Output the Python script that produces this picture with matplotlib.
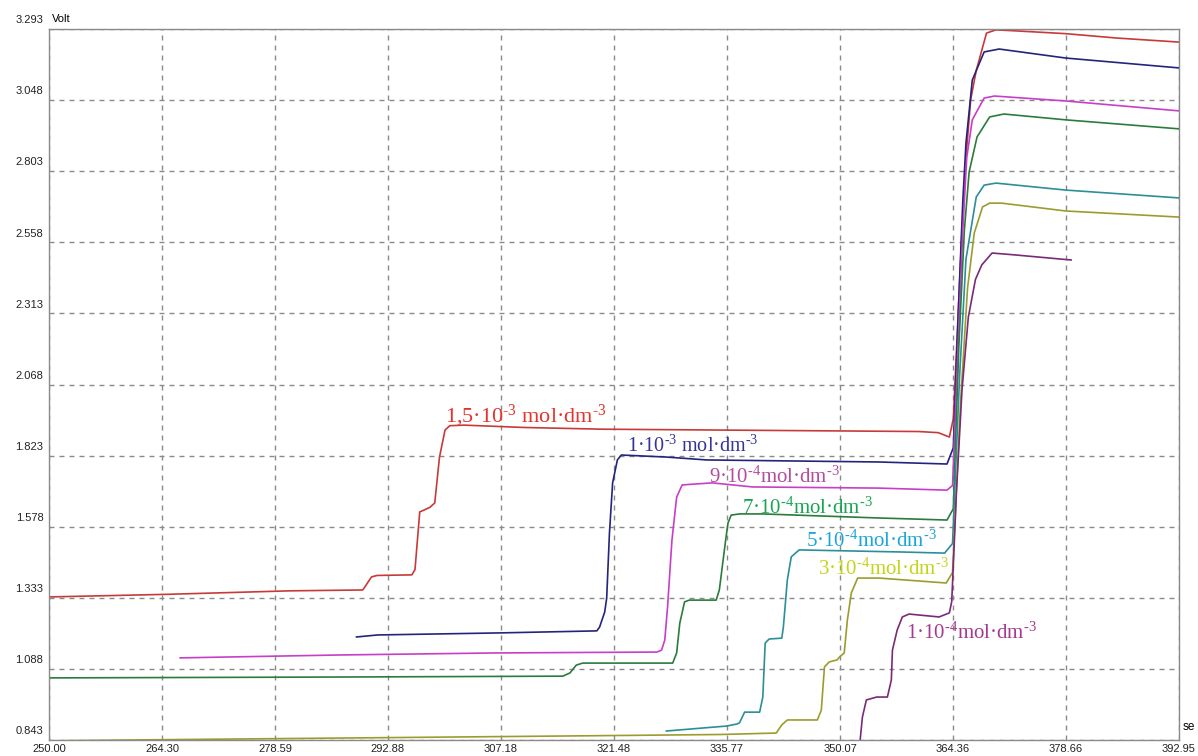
import matplotlib
matplotlib.use("Agg")
import matplotlib.pyplot as plt
from matplotlib.transforms import ScaledTranslation

plt.rcParams['mathtext.fontset'] = 'custom'
plt.rcParams['mathtext.rm'] = 'Liberation Serif'
plt.rcParams['mathtext.it'] = 'Liberation Serif:italic'
plt.rcParams['mathtext.default'] = 'regular'

# Axis ticks (seconds / volts)
x_ticks = [250.00, 264.30, 278.59, 292.88, 307.18, 321.48, 335.77, 350.07, 364.36, 378.66, 392.95]
y_ticks = [0.843, 1.088, 1.333, 1.578, 1.823, 2.068, 2.313, 2.558, 2.803, 3.048, 3.293]

# 1,5e-3 mol/dm3
red_t = [250.0, 265.0, 280.5, 289.7, 290.8, 291.5, 295.9, 296.3, 296.9, 297.5, 298.2, 298.8,
         299.4, 300.1, 300.7, 302.5, 310.0, 320.0, 340.0, 360.0, 362.5, 363.9, 364.4, 365.0,
         365.5, 366.0, 366.6, 367.3, 368.6, 369.8, 372.0, 378.6, 385.0, 392.9]
red_v = [1.336, 1.345, 1.357, 1.360, 1.405, 1.410, 1.412, 1.430, 1.629, 1.636, 1.645, 1.660,
         1.818, 1.911, 1.926, 1.928, 1.920, 1.914, 1.910, 1.906, 1.902, 1.887, 1.95, 2.3,
         2.6, 2.85, 3.05, 3.15, 3.279, 3.29, 3.287, 3.277, 3.262, 3.248]

# 1e-3
blue_t = [288.9, 291.6, 307.0, 319.3, 319.65, 320.3, 320.55, 320.9, 321.3, 321.9, 322.4, 328.1,
          333.2, 355.0, 363.6, 364.4, 365.0, 365.6, 366.0, 366.8, 368.3, 370.2, 378.6, 392.9]
blue_v = [1.198, 1.205, 1.212, 1.219, 1.232, 1.284, 1.332, 1.556, 1.729, 1.808, 1.825, 1.818,
          1.808, 1.801, 1.794, 1.85, 2.3, 2.7, 2.9, 3.117, 3.214, 3.224, 3.193, 3.159]

# 9e-4
mag_t = [266.6, 286.8, 306.6, 326.9, 327.5, 327.9, 328.25, 328.8, 329.4, 330.1, 333.9, 339.0,
         355.0, 363.6, 364.3, 365.0, 365.6, 366.1, 366.8, 368.3, 369.6, 378.6, 392.9]
mag_v = [1.126, 1.136, 1.143, 1.146, 1.153, 1.188, 1.301, 1.530, 1.680, 1.722, 1.729, 1.715,
         1.711, 1.704, 1.72, 2.2, 2.6, 2.85, 2.98, 3.055, 3.062, 3.045, 3.011]

# 7e-4
green_t = [250.0, 286.8, 315.0, 315.9, 316.7, 317.5, 328.9, 329.4, 329.8, 330.4, 331.0, 334.4,
           334.8, 335.6, 335.9, 336.3, 337.35, 340.3, 355.0, 363.6, 364.4, 365.1, 365.8, 366.4,
           367.4, 369.0, 370.8, 378.6, 392.9]
green_v = [1.057, 1.060, 1.063, 1.074, 1.101, 1.108, 1.108, 1.143, 1.246, 1.319, 1.325, 1.325,
           1.360, 1.532, 1.591, 1.618, 1.622, 1.622, 1.608, 1.601, 1.64, 2.2, 2.6, 2.8,
           2.921, 2.990, 3.0, 2.980, 2.949]

# 5e-4
teal_t = [328.1, 335.7, 337.0, 337.35, 338.0, 339.9, 340.3, 340.6, 341.1, 342.7, 342.9, 343.4,
          343.9, 344.9, 357.6, 363.3, 364.3, 365.2, 366.0, 367.3, 368.3, 369.8, 378.6, 392.9]
teal_v = [0.874, 0.891, 0.898, 0.902, 0.939, 0.939, 0.991, 1.177, 1.191, 1.194, 1.232, 1.394,
          1.474, 1.498, 1.491, 1.487, 1.52, 2.1, 2.5, 2.714, 2.755, 2.762, 2.738, 2.711]

# 3e-4
olive_t = [250.0, 260.0, 280.0, 300.0, 320.0, 335.0, 342.0, 342.7, 343.4, 347.2, 347.7, 348.1,
           348.7, 349.7, 350.0, 350.6, 351.0, 351.5, 352.3, 355.0, 363.5, 364.3, 365.3, 366.2,
           367.05, 368.1, 369.0, 370.5, 378.6, 392.9]
olive_v = [0.840, 0.843, 0.848, 0.853, 0.858, 0.862, 0.867, 0.895, 0.912, 0.912, 0.946, 1.095,
           1.112, 1.119, 1.129, 1.143, 1.257, 1.350, 1.401, 1.401, 1.384, 1.42, 2.0, 2.4,
           2.590, 2.680, 2.693, 2.693, 2.666, 2.645]

# 1e-4
purple_t = [352.5, 352.64, 352.9, 353.4, 354.7, 356.06, 356.56, 356.7, 357.3, 357.95, 358.8,
            362.6, 363.9, 364.2, 364.8, 365.5, 366.3, 367.2, 368.0, 369.3, 372.0, 379.3]
purple_v = [0.80, 0.85, 0.922, 0.981, 0.991, 0.991, 1.050, 1.153, 1.222, 1.267, 1.277,
            1.267, 1.281, 1.32, 1.7, 2.05, 2.3, 2.43, 2.48, 2.521, 2.515, 2.497]

labels = [r"1,5·10$^{\text{-3}}$ mol·dm$^{\text{-3}}$", r"1·10$^{\text{-3}}$ mol·dm$^{\text{-3}}$",
          r"9·10$^{\text{-4}}$mol·dm$^{\text{-3}}$", r"7·10$^{\text{-4}}$mol·dm$^{\text{-3}}$",
          r"5·10$^{\text{-4}}$mol·dm$^{\text{-3}}$", r"3·10$^{\text{-4}}$mol·dm$^{\text{-3}}$",
          r"1·10$^{\text{-4}}$mol·dm$^{\text{-3}}$"]
label_x = [300.06, 323.06, 333.55, 337.73, 345.82, 347.33, 358.46]
label_y = [1.939, 1.835, 1.729, 1.622, 1.508, 1.412, 1.191]
label_size = [16, 14.5, 15, 15, 15, 15, 15]
label_colors = ["#e5332c", "#33339a", "#b54ba0", "#18a552", "#1aa6d9", "#c4d41a", "#a8388f"]

series = [(red_t, red_v, "#c83a3a"), (blue_t, blue_v, "#24247c"), (mag_t, mag_v, "#c83ec8"),
          (green_t, green_v, "#2a7c3a"), (teal_t, teal_v, "#2a8f98"),
          (olive_t, olive_v, "#9c9c2e"), (purple_t, purple_v, "#7a2a78")]

fig = plt.figure(figsize=(11.98, 7.56), dpi=100)
ax = fig.add_axes([49 / 1198, 16 / 756, 1130 / 1198, 711 / 756])
ax.set_xlim(x_ticks[0], x_ticks[-1])
ax.set_ylim(y_ticks[0], y_ticks[-1])

for t, v, c in series:
    ax.plot(t, v, color=c, lw=1.2)

for s, x, y, fs, c in zip(labels, label_x, label_y, label_size, label_colors):
    ax.text(x, y, s, color=c, fontsize=fs, family="Liberation Serif", va="baseline", ha="left")

# grid
ax.set_xticks(x_ticks)
ax.set_yticks(y_ticks)
ax.grid(True, color="#8a8a8a", lw=1, linestyle=(0, (3.6, 3.6)))
ax.tick_params(length=0, labelsize=8, colors="#222222")
ax.set_xticklabels(["%.2f" % x for x in x_ticks], family="Liberation Sans")
ax.set_yticklabels(["%.3f" % y for y in y_ticks], family="Liberation Sans")
ax.tick_params(axis="y", pad=4)
ax.tick_params(axis="x", pad=3)
up = ScaledTranslation(0, 7 / 72, fig.dpi_scale_trans)
for lab in ax.get_yticklabels():
    lab.set_transform(lab.get_transform() + up)
for sp in ax.spines.values():
    sp.set_color("#8a8a8a")
    sp.set_linewidth(1)

ax.text(0.0025, 1.0, "Volt", transform=ax.transAxes + up, fontsize=8,
        family="Liberation Sans", va="center", ha="left")
# the unit label is cut to "se" at the window edge in the original
ax.text(1.0035, 0.01, "se", transform=ax.transAxes, fontsize=8.5,
        family="Liberation Sans", va="bottom", ha="left")

fig.savefig("out.png", dpi=100)
